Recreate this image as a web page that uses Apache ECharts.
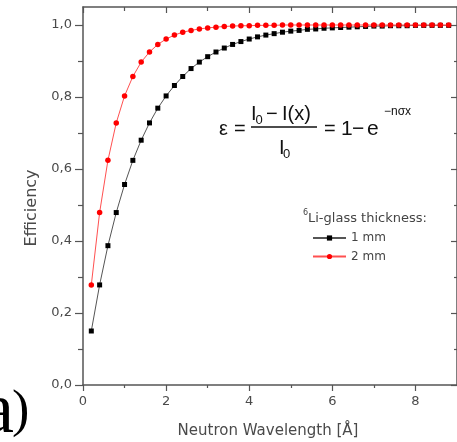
<!DOCTYPE html>
<html><head><meta charset="utf-8">
<script src="https://cdn.jsdelivr.net/npm/echarts@6/dist/echarts.min.js"></script>
<style>html,body{margin:0;padding:0;background:#fff}#c{width:457px;height:442px}</style>
</head><body><div id="c"></div>
<script>
// ---- data ----
const wavelength = [0.2,0.4,0.6,0.8,1.0,1.2,1.4,1.6,1.8,2.0,2.2,2.4,2.6,2.8,3.0,3.2,3.4,3.6,3.8,4.0,4.2,4.4,4.6,4.8,5.0,5.2,5.4,5.6,5.8,6.0,6.2,6.4,6.6,6.8,7.0,7.2,7.4,7.6,7.8,8.0,8.2,8.4,8.6,8.8];
const eff1mm = [0.150,0.278,0.387,0.479,0.557,0.624,0.680,0.728,0.769,0.803,0.832,0.857,0.879,0.897,0.912,0.925,0.936,0.946,0.954,0.961,0.967,0.972,0.976,0.980,0.983,0.985,0.988,0.989,0.991,0.992,0.993,0.994,0.995,0.996,0.997,0.997,0.998,0.998,0.998,0.999,0.999,0.999,0.999,0.999];
const eff2mm = [0.278,0.479,0.624,0.728,0.803,0.857,0.897,0.925,0.946,0.961,0.972,0.980,0.985,0.989,0.992,0.994,0.996,0.997,0.998,0.998,0.999,0.999,0.999,1.000,1.000,1.000,1.000,1.000,1.000,1.000,1.000,1.000,1.000,1.000,1.000,1.000,1.000,1.000,1.000,1.000,1.000,1.000,1.000,1.000];
const seriesNames = ['1 mm', '2 mm'];
const xMajorTicks = [0, 2, 4, 6, 8];
const xMinorTicks = [1, 3, 5, 7];
const yMajorTicks = [0, 0.2, 0.4, 0.6, 0.8, 1.0];
const yMinorTicks = [0.1, 0.3, 0.5, 0.7, 0.9];
const xTitle = 'Neutron Wavelength [Å]';
const yTitle = 'Efficiency';
const legendTitle = 'Li-glass thickness:';

// ---- chart ----
const AX = '#555';
const LBL = '#4a4a4a';
const chart = echarts.init(document.getElementById('c'), null, {renderer: 'canvas'});

function xAx(position, ticks, len, inside, showLine, showLabel) {
  return {
    type: 'value', position: position, min: 0, max: 9,
    axisLine: {show: showLine, onZero: false, lineStyle: {color: AX, width: 1.5}},
    axisTick: {show: true, inside: inside, length: len, customValues: ticks, lineStyle: {color: AX, width: 1.2}},
    axisLabel: {show: showLabel, customValues: ticks, margin: 10, fontSize: 13, fontFamily: 'DejaVu Sans', color: LBL},
    splitLine: {show: false}
  };
}
function yAx(position, ticks, len, inside, showLine, showLabel) {
  return {
    type: 'value', position: position, min: 0, max: 1.05,
    axisLine: {show: showLine, onZero: false, lineStyle: {color: AX, width: 1.5}},
    axisTick: {show: true, inside: inside, length: len, customValues: ticks, lineStyle: {color: AX, width: 1.2}},
    axisLabel: {show: showLabel, customValues: ticks, margin: 11, fontSize: 13, fontFamily: 'DejaVu Sans', color: LBL,
      formatter: v => v.toFixed(1).replace('.', ',')},
    splitLine: {show: false}
  };
}

function t(text, x, y, size) {
  return {
    type: 'text', x: x, y: y,
    style: {text: text, fontSize: size, fontFamily: 'Liberation Sans', fill: '#111',
      align: 'left', verticalAlign: 'middle'}
  };
}

const option = {
  backgroundColor: '#fff',
  animation: false,
  grid: {left: 83, right: -2, top: 7, bottom: 57, containLabel: false},
  xAxis: [
    xAx('bottom', xMajorTicks, 6, false, true, true),
    xAx('bottom', xMinorTicks, 3, false, false, false),
    xAx('top', xMajorTicks, 6, true, true, false),
    xAx('top', xMinorTicks, 4, true, false, false)
  ],
  yAxis: [
    yAx('left', yMajorTicks, 8, false, true, true),
    yAx('left', yMinorTicks, 5, false, false, false),
    yAx('right', yMajorTicks, 6, true, true, false),
    yAx('right', yMinorTicks, 3, true, false, false)
  ],
  legend: {
    orient: 'vertical', left: 312, top: 232, padding: 0, itemWidth: 33, itemHeight: 6.5, itemGap: 6.5,
    textStyle: {fontSize: 12, fontFamily: 'DejaVu Sans', color: '#444'},
    data: seriesNames
  },
  series: [
    {
      name: seriesNames[0], type: 'line', xAxisIndex: 0, yAxisIndex: 0,
      symbol: 'rect', symbolSize: 5, showSymbol: true,
      itemStyle: {color: '#000'},
      lineStyle: {color: '#555', width: 1},
      data: wavelength.map((w, i) => [w, eff1mm[i]])
    },
    {
      name: seriesNames[1], type: 'line', xAxisIndex: 0, yAxisIndex: 0,
      symbol: 'circle', symbolSize: 5.5, showSymbol: true,
      itemStyle: {color: '#ff0000'},
      lineStyle: {color: '#ff5050', width: 1},
      data: wavelength.map((w, i) => [w, eff2mm[i]])
    }
  ],
  graphic: [
    // axis titles
    {type: 'text', x: 268, y: 431, style: {text: xTitle, fontSize: 15, fontFamily: 'DejaVu Sans', fill: LBL, align: 'center', verticalAlign: 'middle'}},
    {type: 'text', x: 32, y: 208, rotation: Math.PI / 2, style: {text: yTitle, fontSize: 16, fontFamily: 'DejaVu Sans', fill: LBL, align: 'center', verticalAlign: 'middle'}},
    // legend title
    {type: 'text', x: 303, y: 213, style: {text: '6', fontSize: 8, fontFamily: 'DejaVu Sans', fill: '#444', align: 'left', verticalAlign: 'middle'}},
    {type: 'text', x: 308, y: 219, style: {text: legendTitle, fontSize: 13, fontFamily: 'DejaVu Sans', fill: '#444', align: 'left', verticalAlign: 'middle'}},
    // formula
    t('ε', 219, 129, 20),
    t('=', 234, 129, 20),
    t('I', 251, 114, 20),
    t('0', 255.5, 120, 13),
    t('−', 266, 114, 20),
    t('I(x)', 282, 114, 20),
    {type: 'line', shape: {x1: 251, y1: 127, x2: 317, y2: 127}, style: {stroke: '#111', lineWidth: 1.4}},
    t('I', 279, 148, 20),
    t('0', 283, 154, 13),
    t('=', 324, 129, 20),
    t('1', 341, 129, 21),
    t('−', 352, 129, 21),
    t('e', 367, 129, 21),
    t('−nσx', 384, 112, 12),
    // panel label
    {type: 'text', x: 14, y: 413, style: {text: 'a', fontSize: 72, fontFamily: 'Liberation Serif', fill: '#000', align: 'right', verticalAlign: 'middle'}},
    {type: 'text', x: 12, y: 412, style: {text: ')', fontSize: 52, fontFamily: 'Liberation Serif', fill: '#000', align: 'left', verticalAlign: 'middle'}}
  ]
};
chart.setOption(option);
</script>
</body></html>
